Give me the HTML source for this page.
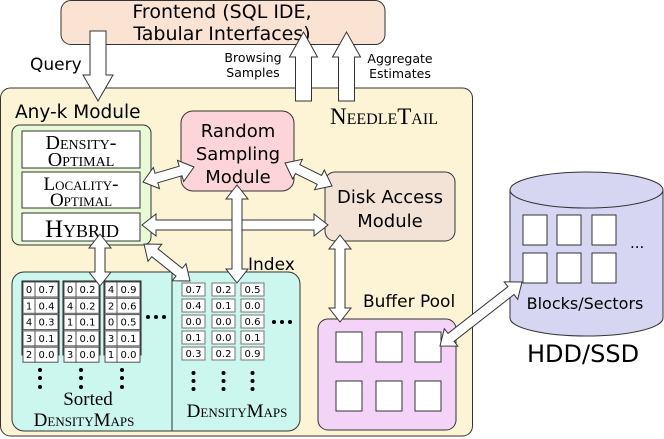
<!DOCTYPE html>
<html><head><meta charset="utf-8"><style>
body{margin:0;background:#fff}
svg{display:block}
.s{font-family:"DejaVu Sans","Liberation Sans",sans-serif}
.r{font-family:"Liberation Serif","DejaVu Serif",serif;font-variant:small-caps}
.t{font-family:"DejaVu Sans",sans-serif;font-size:10px}
</style></head><body>
<svg id="g" width="664" height="439" viewBox="0 0 664 439" xmlns="http://www.w3.org/2000/svg">
<rect x="0.5" y="88" width="472" height="348" rx="10" fill="#fdf4d6" stroke="#333"/>
<rect x="61" y="0.5" width="324" height="44" rx="10" fill="#fbe3d3" stroke="#333"/>
<text class="s" x="222" y="18" font-size="19" text-anchor="middle">Frontend (SQL IDE,</text>
<text class="s" x="222" y="40" font-size="19" text-anchor="middle">Tabular Interfaces)</text>
<text class="s" x="30" y="70" font-size="17">Query</text>
<text class="s" x="253" y="62" font-size="12.5" text-anchor="middle">Browsing</text>
<text class="s" x="253" y="77" font-size="12.5" text-anchor="middle">Samples</text>
<text class="s" x="400" y="63" font-size="12.5" text-anchor="middle">Aggregate</text>
<text class="s" x="400" y="78" font-size="12.5" text-anchor="middle">Estimates</text>
<text class="s" x="15" y="118" font-size="18.5">Any-k Module</text>
<text class="r" x="330" y="124" font-size="23">NeedleTail</text>
<rect x="12" y="125" width="139" height="120" rx="8" fill="#e8fbd6" stroke="#333"/>
<rect x="22" y="131" width="118" height="37" fill="#fff" stroke="#333"/>
<rect x="22" y="172" width="118" height="36" fill="#fff" stroke="#333"/>
<rect x="22" y="213" width="118" height="28" fill="#fff" stroke="#333"/>
<text class="r" x="81" y="149" font-size="20" text-anchor="middle">Density-</text>
<text class="r" x="81" y="166" font-size="20" text-anchor="middle">Optimal</text>
<text class="r" x="81" y="190" font-size="19" text-anchor="middle">Locality-</text>
<text class="r" x="81" y="206" font-size="19" text-anchor="middle">Optimal</text>
<text class="r" x="82" y="237" font-size="25" text-anchor="middle">Hybrid</text>
<rect x="181" y="111" width="113" height="80" rx="12" fill="#fdd5d8" stroke="#333"/>
<text class="s" x="238" y="137" font-size="18" text-anchor="middle">Random</text>
<text class="s" x="238" y="160" font-size="18" text-anchor="middle">Sampling</text>
<text class="s" x="238" y="183" font-size="18" text-anchor="middle">Module</text>
<rect x="325" y="172" width="130" height="69" rx="10" fill="#f3e3d6" stroke="#333"/>
<text class="s" x="390" y="203" font-size="18" text-anchor="middle">Disk Access</text>
<text class="s" x="390" y="227" font-size="18" text-anchor="middle">Module</text>
<rect x="12" y="272" width="288" height="159" rx="12" fill="#ccf7ee" stroke="#333"/>
<line x1="172" y1="272" x2="172" y2="431" stroke="#333"/>
<text class="s" x="248" y="270" font-size="17">Index</text>
<text class="r" x="88" y="405" font-size="19" text-anchor="middle" style="font-variant:normal">Sorted</text>
<text class="r" x="84" y="426" font-size="19" text-anchor="middle">DensityMaps</text>
<text class="r" x="237" y="417" font-size="19" text-anchor="middle">DensityMaps</text>
<rect x="318" y="319" width="138" height="111" rx="10" fill="#f4d3f8" stroke="#333"/>
<text class="s" x="363" y="307" font-size="17">Buffer Pool</text>
<path d="M510 190 V318 A76.5 18 0 0 0 663 318 V190 Z" fill="#d6d6f3" stroke="#333"/>
<ellipse cx="586.5" cy="190" rx="76.5" ry="18" fill="#d6d6f3" stroke="#333"/>
<text class="s" x="630" y="248" font-size="15">...</text>
<text class="s" x="585" y="309" font-size="16" text-anchor="middle">Blocks/Sectors</text>
<text class="s" x="527" y="362" font-size="24">HDD/SSD</text>
<g id="dyn"></g>
</svg>
<script>
var NS="http://www.w3.org/2000/svg",g=document.getElementById("dyn");
function el(n,a,t){var e=document.createElementNS(NS,n);for(var k in a)e.setAttribute(k,a[k]);if(t!=null)e.textContent=t;g.appendChild(e);return e;}
function rect(x,y,w,h,s){el("rect",{x:x,y:y,width:w,height:h,fill:"#fff",stroke:s||"#333"});}
[336,376,415].forEach(function(x){[332,381].forEach(function(y){rect(x,y,26,30);});});
[523,557,592].forEach(function(x){[215,253].forEach(function(y){rect(x,y,24,30);});});
var st=[[["0","0.7"],["1","0.4"],["4","0.3"],["3","0.1"],["2","0.0"]],[["0","0.2"],["4","0.2"],["1","0.1"],["2","0.0"],["3","0.0"]],[["4","0.9"],["2","0.6"],["0","0.5"],["3","0.1"],["1","0.0"]]];
[23,64,105].forEach(function(x,i){
 el("rect",{x:x-1,y:281,width:37,height:74,fill:"#fff",stroke:"#222"});
 for(var r=0;r<5;r++){var y=282+r*16.3;
  el("rect",{x:x,y:y,width:12,height:15,fill:"#fff",stroke:"#555"});
  el("rect",{x:x+12,y:y,width:23,height:15,fill:"#fff",stroke:"#555"});
  el("text",{x:x+6,y:y+11,"class":"t","text-anchor":"middle"},st[i][r][0]);
  el("text",{x:x+23.5,y:y+11,"class":"t","text-anchor":"middle"},st[i][r][1]);}
 [370,378,387].forEach(function(y){el("circle",{cx:x+17,cy:y,r:2,fill:"#000"});});
});
var dt=[["0.7","0.4","0.0","0.1","0.3"],["0.2","0.1","0.0","0.0","0.2"],["0.5","0.0","0.6","0.1","0.9"]];
[182,212,241].forEach(function(x,i){
 for(var r=0;r<5;r++){var y=283+r*16;
  el("rect",{x:x,y:y,width:23,height:13,fill:"#fff",stroke:"#777"});
  el("text",{x:x+11.5,y:y+10,"class":"t","text-anchor":"middle"},dt[i][r]);}
 [373,381,389].forEach(function(y){el("circle",{cx:x+11.5,cy:y,r:2,fill:"#000"});});
});
[148,156,164].forEach(function(x){el("circle",{cx:x,cy:317,r:2,fill:"#000"});});
[274,282,290].forEach(function(x){el("circle",{cx:x,cy:322,r:2,fill:"#000"});});
function arrow(x1,y1,x2,y2,dbl,sw,hw,hl){sw=sw||5;hw=hw||11;hl=hl||14;
 var dx=x2-x1,dy=y2-y1,L=Math.hypot(dx,dy),ux=dx/L,uy=dy/L,px=-uy,py=ux;
 function P(t,o){return (x1+ux*t+px*o).toFixed(1)+","+(y1+uy*t+py*o).toFixed(1);}
 var pts=[];
 if(dbl){pts.push(P(0,0),P(hl,hw),P(hl,sw));}else{pts.push(P(0,sw));}
 pts.push(P(L-hl,sw),P(L-hl,hw),P(L,0),P(L-hl,-hw),P(L-hl,-sw));
 if(dbl){pts.push(P(hl,-sw),P(hl,-hw));}else{pts.push(P(0,-sw));}
 el("polygon",{points:pts.join(" "),fill:"#fff",stroke:"#333","stroke-width":"1"});}
arrow(98,31,98,101,false,8,15,26);
arrow(303.5,101,303.5,32,false,8,14,25);
arrow(346.5,101,346.5,32,false,8,14,25);
arrow(143,182,194,167,true);
arrow(285,163,332,186,true);
arrow(142,225,328,225,true);
arrow(237,185,237,283,true);
arrow(100,234,100,286,true);
arrow(144,244,190,281,true);
arrow(340,235,340,322,true);
arrow(440,346,522,282,true);
</script>
</body></html>
